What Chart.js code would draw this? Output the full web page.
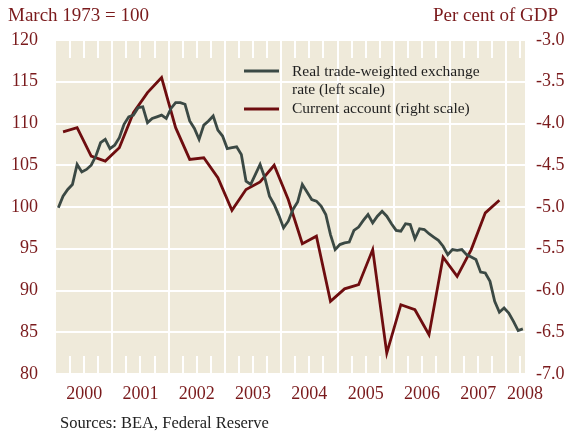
<!DOCTYPE html>
<html>
<head>
<meta charset="utf-8">
<script src="https://cdn.jsdelivr.net/npm/chart.js@4.4.1/dist/chart.umd.min.js"></script>
<style>
  html, body { margin: 0; padding: 0; background: #fff; }
</style>
</head>
<body>
<canvas id="chart" width="567" height="437"></canvas>
<script>
// ----- Data -----

// Real trade-weighted exchange rate, monthly, Jan 2000 .. Apr 2008 (March 1973 = 100)
const exchangeRate = [
  99.9, 101.3, 102.1, 102.7, 105.1, 104.2, 104.5, 105.0, 106.1, 107.7, 108.1, 107.0,
  107.4, 108.3, 109.9, 110.8, 111.0, 111.9, 112.0, 110.1, 110.6, 110.8, 111.0, 110.6,
  111.8, 112.5, 112.5, 112.3, 110.3, 109.4, 108.1, 109.8, 110.3, 110.9, 109.2, 108.5,
  107.0, 107.1, 107.2, 106.3, 103.1, 102.7, 103.9, 105.1, 103.5, 101.3, 100.3, 99.0,
  97.5, 98.3, 99.7, 100.6, 102.7, 101.8, 100.9, 100.7, 100.1, 99.1, 96.7, 94.9,
  95.5, 95.7, 95.8, 97.2, 97.6, 98.4, 99.1, 98.1, 98.9, 99.5, 98.9, 98.0,
  97.2, 97.1, 98.0, 97.9, 96.2, 97.4, 97.3, 96.8, 96.4, 96.0, 95.3, 94.3,
  94.9, 94.8, 94.9, 94.3, 94.0, 93.7, 92.2, 92.1, 91.1, 88.7, 87.4, 87.9,
  87.3, 86.3, 85.2, 85.4
];

// Current account, quarterly, 2000Q1 .. 2007Q4 (per cent of GDP)
const currentAccount = [
  -4.10, -4.05, -4.39, -4.45,
  -4.29, -3.87, -3.63, -3.45,
  -4.05, -4.43, -4.41, -4.65,
  -5.04, -4.79, -4.70, -4.50,
  -4.91, -5.44, -5.35, -6.13,
  -5.98, -5.93, -5.51, -6.75,
  -6.17, -6.23, -6.53, -5.60,
  -5.83, -5.51, -5.07, -4.92
];

const yearLabels = ["2000", "2001", "2002", "2003", "2004", "2005", "2006", "2007", "2008"];
const yearLabelPos = [2000.5, 2001.5, 2002.5, 2003.5, 2004.5, 2005.5, 2006.5, 2007.5, 2008.33];
const yearGrid = [2001, 2002, 2003, 2004, 2005, 2006, 2007, 2008];
const leftTicks = [80, 85, 90, 95, 100, 105, 110, 115, 120];
const rightTicks = [-7.0, -6.5, -6.0, -5.5, -5.0, -4.5, -4.0, -3.5, -3.0];

const X_MIN = 2000;
const X_MAX = 2008.33;

// ----- Styles -----

const RED = "#6e0d0f";
const GREY = "#3b4944";
const LABEL_RED = "#7a1a1c";
const PLOT_BG = "#efeada";
const FONT = "'Liberation Serif', 'DejaVu Serif', serif";

const monthlyPoints = exchangeRate.map((v, i) => ({ x: 2000 + (i + 0.5) / 12, y: v }));
const quarterlyPoints = currentAccount.map((v, i) => ({ x: 2000 + (i + 0.5) / 4, y: v }));

const setTicks = (values) => (scale) => {
  scale.ticks = values.map(v => ({ value: v }));
};

// ----- Plugins -----

// plot background
const backgroundPlugin = {
  id: "plotBackground",
  beforeDraw(chart) {
    const { ctx, chartArea: a } = chart;
    ctx.save();
    ctx.fillStyle = PLOT_BG;
    ctx.fillRect(a.left, a.top, a.right - a.left, a.bottom - a.top);
    ctx.restore();
  }
};

// short white quarter marks at top and bottom of the plot
const quarterTicksPlugin = {
  id: "quarterTicks",
  beforeDatasetsDraw(chart) {
    const { ctx, chartArea: a } = chart;
    const xs = chart.scales.x;
    ctx.save();
    ctx.strokeStyle = "#ffffff";
    ctx.lineWidth = 2;
    for (let q = X_MIN * 4 + 1; q / 4 < X_MAX; q++) {
      if (q % 4 === 0) continue;
      const px = Math.round(xs.getPixelForValue(q / 4));
      ctx.beginPath();
      ctx.moveTo(px, a.top);
      ctx.lineTo(px, a.top + 18);
      ctx.moveTo(px, a.bottom - 18);
      ctx.lineTo(px, a.bottom);
      ctx.stroke();
    }
    ctx.restore();
  }
};

// titles, legend and source note
const annotationPlugin = {
  id: "annotations",
  afterDraw(chart) {
    const { ctx } = chart;
    ctx.save();

    ctx.font = `19px ${FONT}`;
    ctx.fillStyle = LABEL_RED;
    ctx.textBaseline = "middle";
    ctx.textAlign = "left";
    ctx.fillText("March 1973 = 100", 8, 16);
    ctx.textAlign = "right";
    ctx.fillText("Per cent of GDP", 558, 16);

    // legend
    ctx.lineWidth = 3;
    ctx.strokeStyle = GREY;
    ctx.beginPath();
    ctx.moveTo(244, 71);
    ctx.lineTo(279, 71);
    ctx.stroke();
    ctx.strokeStyle = RED;
    ctx.beginPath();
    ctx.moveTo(244, 109);
    ctx.lineTo(279, 109);
    ctx.stroke();

    ctx.font = `15.5px ${FONT}`;
    ctx.fillStyle = "#1e1e1e";
    ctx.textAlign = "left";
    ctx.fillText("Real trade-weighted exchange", 292, 72);
    ctx.fillText("rate (left scale)", 292, 90);
    ctx.fillText("Current account (right scale)", 292, 109);

    ctx.font = `16.5px ${FONT}`;
    ctx.fillStyle = "#222222";
    ctx.fillText("Sources: BEA, Federal Reserve", 60, 424);

    ctx.restore();
  }
};

// ----- Chart -----

document.addEventListener("DOMContentLoaded", () => {
  const ctx = document.getElementById("chart").getContext("2d");

  window.tradeChart = new Chart(ctx, {
    type: "line",
    data: {
      datasets: [
        {
          label: "Real trade-weighted exchange rate (left scale)",
          data: monthlyPoints,
          yAxisID: "y",
          xAxisID: "x",
          borderColor: GREY,
          borderWidth: 2.8,
          pointRadius: 0,
          tension: 0,
          order: 1
        },
        {
          label: "Current account (right scale)",
          data: quarterlyPoints,
          yAxisID: "y2",
          xAxisID: "x",
          borderColor: RED,
          borderWidth: 2.8,
          pointRadius: 0,
          tension: 0,
          order: 2
        }
      ]
    },
    options: {
      responsive: false,
      animation: false,
      layout: { padding: { top: 40, right: 0, bottom: 0, left: 0 } },
      plugins: {
        legend: { display: false },
        tooltip: { enabled: false }
      },
      scales: {
        x: {
          type: "linear",
          position: "bottom",
          min: X_MIN,
          max: X_MAX,
          afterBuildTicks: setTicks(yearLabelPos),
          afterFit: (s) => { s.height = 63; },
          grid: { display: false, drawTicks: false },
          border: { display: false },
          ticks: {
            autoSkip: false,
            maxRotation: 0,
            padding: 9,
            color: LABEL_RED,
            font: { family: FONT, size: 18 },
            callback: (v, i) => yearLabels[i]
          }
        },
        xg: {
          type: "linear",
          position: "bottom",
          min: X_MIN,
          max: X_MAX,
          afterBuildTicks: setTicks(yearGrid),
          afterFit: (s) => { s.height = 0; },
          grid: { color: "#ffffff", lineWidth: 2, drawTicks: false },
          border: { display: false },
          ticks: { display: false }
        },
        y: {
          position: "left",
          min: 80,
          max: 120,
          afterBuildTicks: setTicks(leftTicks),
          afterFit: (s) => { s.width = 56; },
          grid: { color: "#ffffff", lineWidth: 2, drawTicks: false },
          border: { display: false },
          ticks: {
            padding: 18,
            color: LABEL_RED,
            font: { family: FONT, size: 18 }
          }
        },
        y2: {
          position: "right",
          min: -7,
          max: -3,
          afterBuildTicks: setTicks(rightTicks),
          afterFit: (s) => { s.width = 42; },
          grid: { display: false, drawTicks: false },
          border: { display: false },
          ticks: {
            padding: 11,
            color: LABEL_RED,
            font: { family: FONT, size: 18 },
            callback: (v) => v.toFixed(1)
          }
        }
      }
    },
    plugins: [backgroundPlugin, quarterTicksPlugin, annotationPlugin]
  });
});
</script>
</body>
</html>
